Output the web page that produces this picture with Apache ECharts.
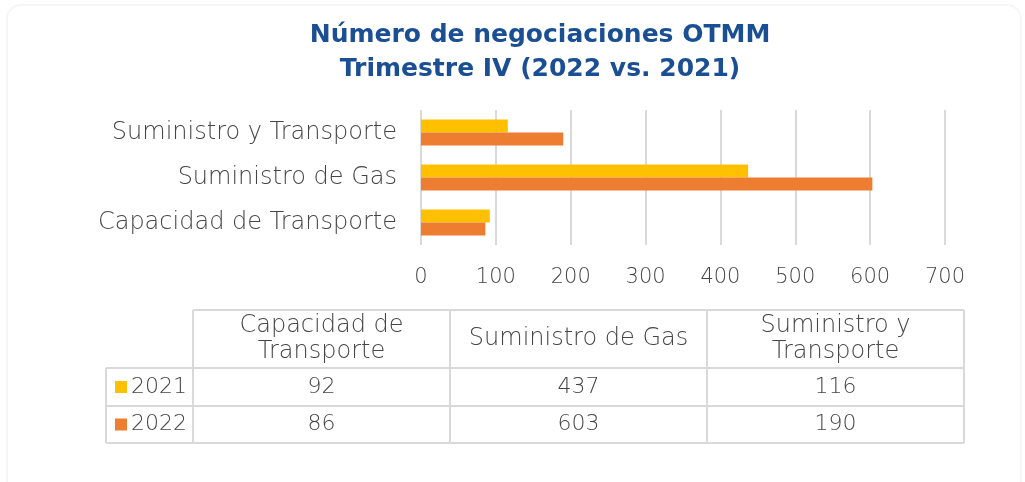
<!DOCTYPE html>
<html>
<head>
<meta charset="utf-8">
<script src="https://cdn.jsdelivr.net/npm/echarts@6/dist/echarts.min.js"></script>
<style>
  html, body { margin: 0; padding: 0; background: #fff; }
  #main { width: 1025px; height: 482px; }
</style>
</head>
<body>
<div id="main"></div>
<script>
var categories = ['Capacidad de Transporte', 'Suministro de Gas', 'Suministro y Transporte'];
var tableHeaders = ['Capacidad de\nTransporte', 'Suministro de Gas', 'Suministro y\nTransporte'];
var years = ['2021', '2022'];
var values2021 = [92, 437, 116];
var values2022 = [86, 603, 190];
var axisMax = 700;
var axisStep = 100;

var colors = { '2021': '#FFC000', '2022': '#ED7D31' };
var textGray = '#454545';
var lineGray = '#D9D9D9';
var font = 'DejaVu Sans';

var myChart = echarts.init(document.getElementById('main'));

// table layout (pixels)
var colX = [106, 193, 450, 707, 964];
var rowY = [310, 368, 406, 443];

var graphic = [];

// faint card outline
graphic.push({
    type: 'rect',
    shape: { x: 7, y: 5, width: 1014, height: 490, r: 14 },
    style: { fill: 'none', stroke: '#F6F6F6', lineWidth: 2 },
    silent: true
});

// table grid lines
function hline(x1, x2, y) {
    graphic.push({ type: 'line', shape: { x1: x1, y1: y, x2: x2, y2: y },
        style: { stroke: lineGray, lineWidth: 2 }, silent: true });
}
function vline(x, y1, y2) {
    graphic.push({ type: 'line', shape: { x1: x, y1: y1, x2: x, y2: y2 },
        style: { stroke: lineGray, lineWidth: 2 }, silent: true });
}
hline(colX[1], colX[4], rowY[0]);
hline(colX[0], colX[4], rowY[1]);
hline(colX[0], colX[4], rowY[2]);
hline(colX[0], colX[4], rowY[3]);
vline(colX[0], rowY[1], rowY[3]);
for (var c = 1; c < colX.length; c++) vline(colX[c], rowY[0], rowY[3]);

function cellText(txt, x, y, size, align) {
    graphic.push({
        type: 'text', x: x, y: y, silent: true,
        style: {
            text: txt, fill: textGray, font: '200 ' + size + 'px "' + font + '"',
            textAlign: align || 'center', textVerticalAlign: 'middle', lineHeight: 26
        }
    });
}

tableHeaders.forEach(function (h, i) {
    cellText(h, (colX[i + 1] + colX[i + 2]) / 2, (rowY[0] + rowY[1]) / 2, 24);
});

var rows = [values2021, values2022];
years.forEach(function (yr, r) {
    var cy = (rowY[r + 1] + rowY[r + 2]) / 2;
    graphic.push({ type: 'rect', shape: { x: 115, y: cy - 6, width: 12, height: 12 },
        style: { fill: colors[yr] }, silent: true });
    cellText(yr, 131, cy, 22, 'left');
    rows[r].forEach(function (v, i) {
        cellText(String(v), (colX[i + 1] + colX[i + 2]) / 2, cy, 22);
    });
});

var option = {
    animation: false,
    title: {
        text: 'Número de negociaciones OTMM\nTrimestre IV (2022 vs. 2021)',
        left: 535,
        textAlign: 'center',
        top: 13,
        textStyle: {
            color: '#1B4F94', fontFamily: font, fontWeight: 'bold',
            fontSize: 25, lineHeight: 34
        }
    },
    grid: { left: 421, right: 80, top: 110, bottom: 237 },
    xAxis: {
        type: 'value', min: 0, max: axisMax, interval: axisStep,
        axisLine: { show: false }, axisTick: { show: false },
        splitLine: { lineStyle: { color: lineGray, width: 2 } },
        axisLabel: { color: textGray, fontFamily: font, fontWeight: 200, fontSize: 21, margin: 22 }
    },
    yAxis: {
        type: 'category', data: categories,
        axisLine: { show: false }, axisTick: { show: false },
        axisLabel: { color: textGray, fontFamily: font, fontWeight: 200, fontSize: 24, margin: 24 }
    },
    series: [
        { name: '2021', type: 'bar', data: values2021, barWidth: 13, barGap: '0%',
          itemStyle: { color: colors['2021'] } },
        { name: '2022', type: 'bar', data: values2022, barWidth: 13, barGap: '0%',
          itemStyle: { color: colors['2022'] } }
    ],
    graphic: graphic
};

myChart.setOption(option);
</script>
</body>
</html>
